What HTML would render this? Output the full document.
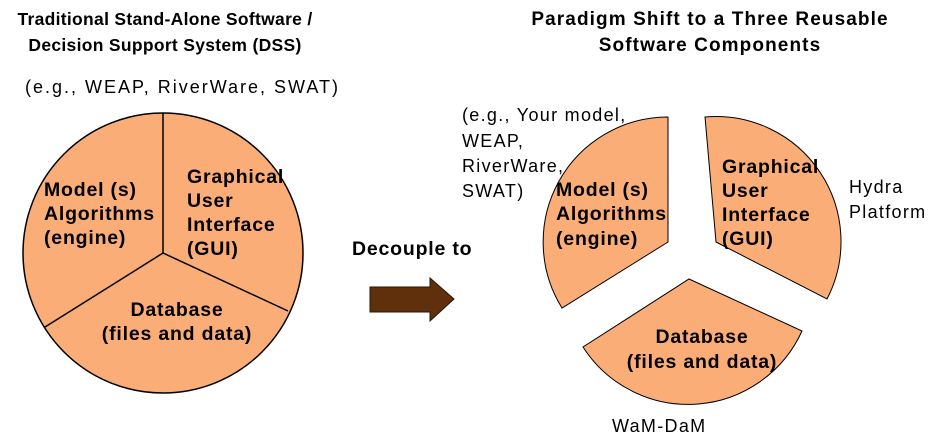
<!DOCTYPE html>
<html><head><meta charset="utf-8"><style>
html,body{margin:0;padding:0;background:#fff;}
svg{display:block;}
text{font-family:"Liberation Sans",Arial,sans-serif;fill:#000;}
.b{font-weight:bold;font-size:19.5px;letter-spacing:0.8px;}
.t{font-weight:bold;font-size:19px;letter-spacing:1.1px;}
.tl{font-weight:bold;font-size:17.5px;letter-spacing:0.3px;}
.n{font-size:18px;letter-spacing:1.3px;}
</style></head><body>
<svg width="940" height="446" viewBox="0 0 940 446" xmlns="http://www.w3.org/2000/svg">
<text class="tl" x="165" y="25" text-anchor="middle">Traditional Stand-Alone Software /</text>
<text class="tl" x="165" y="51" text-anchor="middle">Decision Support System (DSS)</text>
<text class="n" x="25" y="93" style="letter-spacing:2px">(e.g., WEAP, RiverWare, SWAT)</text>

<circle cx="163" cy="253" r="140" fill="#FBAD78" stroke="#000" stroke-width="1.5"/>
<line x1="163" y1="253" x2="163" y2="113" stroke="#000" stroke-width="1.5"/>
<line x1="163" y1="253" x2="45" y2="327" stroke="#000" stroke-width="1.5"/>
<line x1="163" y1="253" x2="288" y2="311" stroke="#000" stroke-width="1.5"/>

<text class="b" x="44" y="196">Model (s)</text>
<text class="b" x="44" y="220">Algorithms</text>
<text class="b" x="44" y="244">(engine)</text>
<text class="b" x="187" y="183">Graphical</text>
<text class="b" x="187" y="207">User</text>
<text class="b" x="187" y="231">Interface</text>
<text class="b" x="187" y="255">(GUI)</text>
<text class="b" x="177" y="316" text-anchor="middle">Database</text>
<text class="b" x="177" y="340" text-anchor="middle">(files and data)</text>

<text class="b" x="352" y="255">Decouple to</text>
<path d="M370,287 L430,287 L430,278 L454,299 L430,321 L430,312 L370,312 Z" fill="#5F300B" stroke="#2a1404" stroke-width="1"/>

<text class="t" x="710" y="25" text-anchor="middle">Paradigm Shift to a Three Reusable</text>
<text class="t" x="710" y="51" text-anchor="middle">Software Components</text>

<path d="M668,242 L562,308 A125,125 0 0 1 668,117 Z" fill="#FBAD78" stroke="#000" stroke-width="1"/>
<path d="M716,242 L705,117 A125,125 0 0 1 827,299 Z" fill="#FBAD78" stroke="#000" stroke-width="1"/>
<path d="M689,279 L802,331 A125,125 0 0 1 583,347 Z" fill="#FBAD78" stroke="#000" stroke-width="1"/>

<text class="n" x="462" y="121">(e.g., Your model,</text>
<text class="n" x="462" y="147">WEAP,</text>
<text class="n" x="462" y="172">RiverWare,</text>
<text class="n" x="462" y="197">SWAT)</text>
<text class="b" x="556" y="196">Model (s)</text>
<text class="b" x="556" y="220">Algorithms</text>
<text class="b" x="556" y="245">(engine)</text>
<text class="b" x="722" y="173">Graphical</text>
<text class="b" x="722" y="197">User</text>
<text class="b" x="722" y="221">Interface</text>
<text class="b" x="722" y="245">(GUI)</text>
<text class="n" x="849" y="193">Hydra</text>
<text class="n" x="849" y="218">Platform</text>
<text class="b" x="702" y="343" text-anchor="middle">Database</text>
<text class="b" x="702" y="368" text-anchor="middle">(files and data)</text>
<text class="n" x="612" y="432">WaM-DaM</text>
</svg>
</body></html>
